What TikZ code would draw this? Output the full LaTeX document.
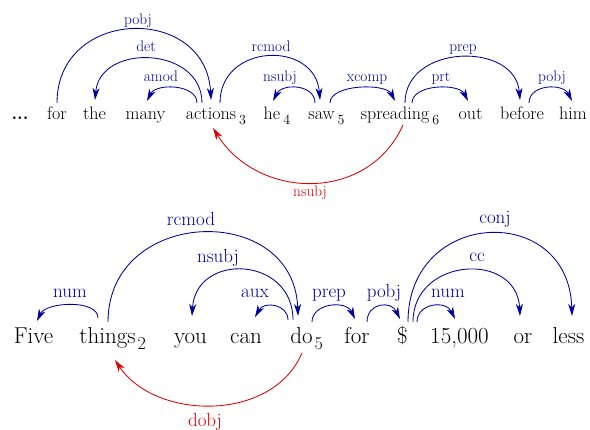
\documentclass[tikz,border=0pt]{standalone}
\usetikzlibrary{arrows.meta,calc}
\definecolor{depblue}{RGB}{0,0,160}
\definecolor{depred}{RGB}{220,0,0}
\tikzset{
  wtop/.style={inner sep=0pt,anchor=base,font=\fontsize{18}{20}\selectfont},
  wbot/.style={inner sep=0pt,anchor=base,font=\fontsize{23}{25}\selectfont},
  ltop/.style={inner sep=0pt,anchor=base,text=depblue,font=\fontsize{15.3}{17}\selectfont},
  lbot/.style={inner sep=0pt,anchor=base,text=depblue,font=\fontsize{19}{21}\selectfont},
  rtop/.style={ltop,text=depred},
  rbot/.style={lbot,text=depred},
  arc/.style={draw=depblue,line width=0.85pt,-{Stealth[length=12pt,width=7pt,inset=3.5pt]}},
  rarc/.style={draw=depred,line width=0.85pt,-{Stealth[length=12pt,width=7pt,inset=3.5pt]}},
}
\newcommand{\subtop}[1]{\rlap{\hspace{3pt}\raisebox{-5pt}{\fontsize{14}{14}\selectfont #1}}}
\newcommand{\subbot}[1]{\rlap{\hspace{2pt}\raisebox{-6pt}{\fontsize{18}{18}\selectfont #1}}}
\begin{document}
\begin{tikzpicture}[x=1pt,y=-1pt]
\useasboundingbox (0,0) rectangle (590,430);
% ---------- top sentence ----------
\node[wtop] (dots) at (20,120) {\textbf{...}};
\node[wtop] (for) at (57,120) {for};
\node[wtop] (the) at (94.5,120) {the};
\node[wtop] (many) at (145.5,120) {many};
\node[wtop] (actions) at (211,120) {actions\subtop{3}};
\node[wtop] (he) at (272,120) {he\subtop{4}};
\node[wtop] (saw) at (321.5,120) {saw\subtop{5}};
\node[wtop] (spreading) at (395,120) {spreading\subtop{6}};
\node[wtop] (out) at (470.5,120) {out};
\node[wtop] (before) at (522,120) {before};
\node[wtop] (him) at (573,120) {him};
% arcs
\draw[arc] ($(actions.base)+(-14,-17)$) .. controls +(0,-19) and +(9,-18) .. ($(many.base)+(1.5,-19)$);
\draw[arc] ($(actions.base)+(-9,-17)$) .. controls +(0,-57) and +(5,-57) .. ($(the.base)+(0.5,-20)$);
\draw[arc] ($(for.base)+(0,-17)$) .. controls +(0,-96) and +(-5,-96) .. ($(actions.base)+(0,-20)$);
\draw[arc] ($(actions.base)+(9,-17)$) .. controls +(0,-60) and +(-5,-60) .. ($(saw.base)+(-1.5,-20)$);
\draw[arc] ($(saw.base)+(-6.5,-17)$) .. controls +(0,-19) and +(9,-18) .. ($(he.base)+(1,-19)$);
\draw[arc] ($(saw.base)+(8.5,-17)$) .. controls +(0,-19) and +(-9,-18) .. ($(spreading.base)+(0,-19)$);
\draw[arc] ($(spreading.base)+(10,-17)$) .. controls +(0,-59) and +(-5,-59) .. ($(before.base)+(-2,-20)$);
\draw[arc] ($(spreading.base)+(17,-17)$) .. controls +(0,-19) and +(-9,-18) .. ($(out.base)+(-2.5,-19)$);
\draw[arc] ($(before.base)+(7,-17)$) .. controls +(0,-19) and +(-9,-18) .. ($(him.base)+(-1,-19)$);
\draw[rarc] ($(spreading.base)+(8,5)$) .. controls +(-35,78) and +(45,72) .. ($(actions.base)+(2,8)$);
% labels
\node[ltop] (l-pobj1) at (138,25) {pobj};
\node[ltop] (l-det) at (146,52) {det};
\node[ltop] (l-amod) at (161,82) {amod};
\node[ltop] (l-rcmod1) at (271,52) {rcmod};
\node[ltop] (l-nsubj1) at (280,82) {nsubj};
\node[ltop] (l-xcomp) at (367,82) {xcomp};
\node[ltop] (l-prep1) at (463,52) {prep};
\node[ltop] (l-prt) at (441,82) {prt};
\node[ltop] (l-pobj2) at (552,82) {pobj};
\node[rtop] (l-nsubjr) at (310,197) {nsubj};
% ---------- bottom sentence ----------
\node[wbot] (five) at (33.5,344) {Five};
\node[wbot] (things) at (107.5,344) {things\subbot{2}};
\node[wbot] (you) at (190.5,344) {you};
\node[wbot] (can) at (246,344) {can};
\node[wbot] (do) at (301.5,344) {do\subbot{5}};
\node[wbot] (for2) at (357,344) {for};
\node[wbot] (dollar) at (402.5,344) {\$};
\node[wbot] (num) at (459.5,344) {15,000};
\node[wbot] (or) at (523,344) {or};
\node[wbot] (less) at (568.5,344) {less};
% arcs
\draw[arc] ($(things.base)+(-9.5,-26)$) .. controls +(0,-19) and +(9,-19) .. ($(five.base)+(3.5,-23)$);
\draw[arc] ($(things.base)+(0.5,-22)$) .. controls +(0,-115) and +(-4,-115) .. ($(do.base)+(-3.5,-28)$);
\draw[arc] ($(do.base)+(-8.5,-24)$) .. controls +(0,-64) and +(4,-64) .. ($(you.base)+(1.5,-28)$);
\draw[arc] ($(do.base)+(-13.5,-24)$) .. controls +(0,-16) and +(9,-16) .. ($(can.base)+(9,-27)$);
\draw[arc] ($(do.base)+(10.5,-22)$) .. controls +(0,-19) and +(-9,-19) .. ($(for2.base)+(-2,-25)$);
\draw[arc] ($(for2.base)+(10,-22)$) .. controls +(0,-19) and +(-9,-19) .. ($(dollar.base)+(-2.5,-25)$);
\draw[arc] ($(dollar.base)+(14.5,-22)$) .. controls +(0,-19) and +(-9,-19) .. ($(num.base)+(-4.5,-25)$);
\draw[arc] ($(dollar.base)+(10.5,-22)$) .. controls +(0,-65) and +(-3,-65) .. ($(or.base)+(-3,-28)$);
\draw[arc] ($(dollar.base)+(5.5,-22)$) .. controls +(0,-114) and +(-3,-114) .. ($(less.base)+(3.5,-28)$);
\draw[rarc] ($(do.base)+(0.5,9)$) .. controls +(-30,70) and +(40,60) .. ($(things.base)+(7.5,16)$);
% labels
\node[lbot] (b-num1) at (70,298) {num};
\node[lbot] (b-rcmod) at (191,226) {rcmod};
\node[lbot] (b-nsubj) at (218,263) {nsubj};
\node[lbot] (b-aux) at (255,298) {aux};
\node[lbot] (b-prep) at (329,298) {prep};
\node[lbot] (b-pobj) at (384,298) {pobj};
\node[lbot] (b-num2) at (448,298) {num};
\node[lbot] (b-cc) at (477,262) {cc};
\node[lbot] (b-conj) at (495,224) {conj};
\node[rbot] (b-dobj) at (205,427) {dobj};
\end{tikzpicture}
\end{document}
